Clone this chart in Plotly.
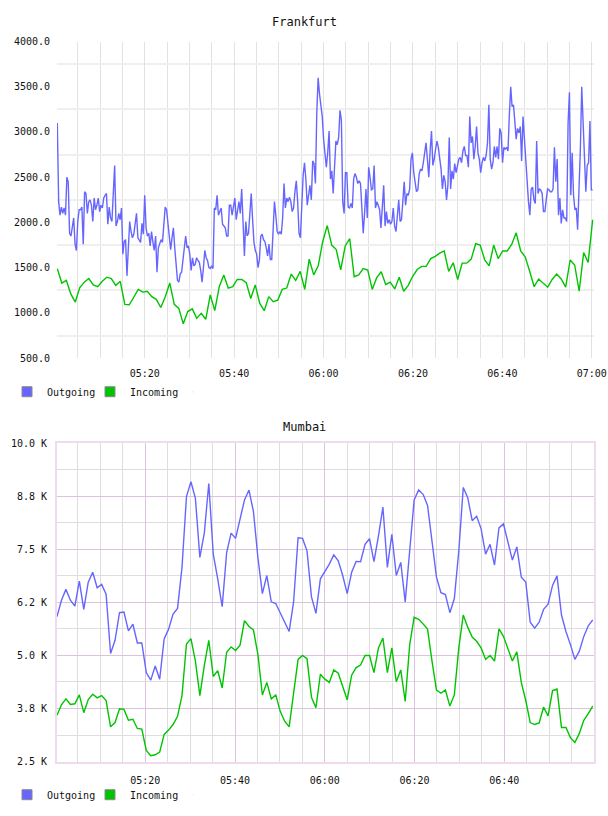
import pandas as pd
import plotly.graph_objects as go

# ---------------- data ----------------
fr_out = [3100, 2230, 2080, 2170, 2100, 2160, 2080, 2500, 2450, 1880, 1850, 1940, 2050, 1760, 1690, 2010,
          2140, 2140, 2170, 1760, 2340, 2320, 2100, 2230, 2250, 2190, 2010, 2270, 2140, 2190, 2270, 2120,
          2190, 2160, 2270, 2300, 2320, 1980, 2170, 2050, 2010, 2320, 2630, 1960, 2010, 2100, 2030, 2160,
          1650, 1790, 1810, 1410, 1790, 2010, 1900, 1830, 1870, 1980, 2100, 1830, 1810, 1780, 1990, 1870,
          2300, 1940, 1850, 1880, 1740, 1900, 1780, 1690, 1850, 1450, 1720, 1780, 1810, 1780, 1980, 2170,
          2140, 1980, 1850, 1700, 1830, 1940, 1720, 1540, 1360, 1340, 1430, 1450, 1580, 1690, 1850, 1720,
          1740, 1650, 1470, 1610, 1520, 1540, 1610, 1580, 1560, 1470, 1340, 1500, 1690, 1610, 1580, 1500,
          1490, 1520, 1490, 2160, 2140, 2300, 2080, 2120, 2160, 1980, 1960, 1940, 1850, 1850, 2190, 2190,
          2080, 2190, 2270, 2030, 2160, 2230, 2100, 2370, 2010, 1630, 2010, 1850, 1880, 2070, 2320, 2030,
          1780, 1690, 1650, 1500, 1590, 1850, 1870, 1810, 1790, 1720, 1630, 1760, 1590, 1590, 1900, 2230,
          2080, 1900, 1870, 1900, 1870, 2050, 2430, 2160, 2270, 2230, 2280, 2230, 2120, 2160, 2340, 2460,
          2230, 1880, 1830, 2170, 2520, 2660, 2480, 2190, 2340, 2410, 2250, 2680, 2650, 2430, 3210, 3600,
          3420, 3280, 3170, 2920, 2770, 2610, 2770, 3010, 2480, 2570, 2320, 2590, 2900, 2860, 2940, 3240,
          3130, 2230, 2100, 2550, 2550, 2170, 2160, 2210, 2160, 2480, 2540, 2500, 2430, 2460, 2430, 2160,
          1880, 2100, 2370, 2050, 2610, 2500, 2360, 2370, 2630, 2160, 2230, 2190, 2140, 1940, 2230, 2410,
          1960, 2120, 1990, 2030, 1980, 2010, 2160, 1960, 1900, 2100, 2250, 2010, 2030, 2230, 2450, 2190,
          2320, 2300, 2370, 2700, 2770, 2550, 2430, 2340, 2360, 2540, 2590, 2570, 2660, 2770, 2880, 2700,
          2500, 2790, 3010, 2630, 2700, 2810, 2900, 2830, 2700, 2590, 2370, 2520, 2450, 2250, 2410, 2940,
          2370, 2570, 2480, 2650, 2550, 2630, 2700, 2720, 2660, 2790, 2840, 2740, 2740, 2610, 3170, 2880,
          2950, 2700, 2840, 3060, 2770, 2700, 2550, 2660, 2720, 2680, 2740, 2880, 3300, 2700, 2590, 2660,
          2840, 2720, 2840, 2700, 3040, 2990, 2660, 2830, 2810, 2830, 2790, 3190, 3500, 3280, 3300, 3120,
          2920, 3040, 2990, 3060, 2680, 3170, 2920, 2790, 2450, 2230, 2080, 2370, 2390, 2250, 2210, 2900,
          2320, 2370, 2360, 2320, 2120, 2120, 2250, 2370, 2360, 2340, 2340, 2370, 2830, 2450, 2700, 2080,
          2270, 1990, 2140, 2050, 2050, 2010, 3100, 3440, 2300, 2770, 2300, 2140, 2160, 1920, 2370, 2810,
          3500, 3030, 2700, 2340, 2630, 2660, 3120, 2360, 2360]

fr_in = [1490, 1330, 1360, 1210, 1120, 1280, 1340, 1380, 1310, 1290, 1350, 1395, 1380, 1305, 1350, 1095,
         1090, 1180, 1260, 1230, 1240, 1180, 1150, 1060, 1180, 1330, 1095, 1050, 880, 1015, 1045, 940,
         995, 930, 1200, 1025, 1290, 1420, 1275, 1290, 1370, 1370, 1335, 1160, 1310, 1105, 1025, 1180,
         1125, 1140, 1260, 1275, 1430, 1360, 1460, 1260, 1594, 1420, 1520,
         1790, 1965, 1750, 1700, 1475, 1740, 1820, 1400, 1420, 1490, 1475, 1260, 1390, 1455, 1315, 1340,
         1265, 1395, 1240, 1305, 1405, 1480, 1515, 1515, 1600, 1625, 1660, 1685, 1460, 1555, 1370, 1550,
         1550, 1595, 1765, 1750, 1587, 1520, 1750, 1600, 1685, 1685, 1757, 1885, 1685, 1620, 1460, 1290,
         1375, 1330, 1285, 1370, 1430, 1375, 1285, 1585, 1530, 1240, 1667, 1558, 2030]

mu_out = [5913, 6300, 6555, 6300, 6161, 6749, 6084, 6726, 6958, 6594, 6672, 6440, 5046, 5356, 6006, 6022,
          5580, 5735, 5294, 5294, 4597, 4419, 4752, 4442, 5387, 5619, 5975, 6107, 7074, 8738, 9087, 8700,
          7306, 7887, 9048, 7384, 6803, 6146, 7422, 7879, 7755, 8235, 8661, 8893, 8390, 7306, 6455, 6881,
          6262, 6223, 5991, 5797, 5565, 6262, 7771, 7755, 7461, 6378, 5991, 6803, 6981,
          7151, 7368, 7229, 6881, 6455, 6958, 7214, 7206, 7616, 7748, 7206, 7810, 8491, 7074, 7848, 6881,
          7190, 6262, 7539, 8661, 8893, 8793, 8529, 7693, 6842, 6478, 6432, 6006, 6339, 7461, 8955, 8715,
          8173, 8274, 7980, 7384, 7616, 7128, 8003, 8096, 7693, 7245, 7554, 6842, 6726, 5781, 5642, 5781,
          6084, 6207, 6649, 6873, 5952, 5565, 5255, 4907, 5100, 5449, 5697, 5836]

mu_in = [3591, 3839, 3978, 3847, 3862, 4071, 3653, 3963, 4086, 4001, 4055, 3939, 3320, 3421, 3746, 3731,
         3475, 3498, 3281, 3266, 2763, 2639, 2662, 2724, 3142, 3243, 3374, 3568, 4055, 5271, 5395, 4868,
         4055, 4768, 5356, 4505, 4644, 4234, 5077, 5201, 5116, 5240, 5820, 5681, 5603, 5023, 4071, 4365,
         3978, 4071, 3684, 3452, 3320, 4071, 4907, 4999, 4922, 4017, 3769, 4559, 4442,
         4365, 4659, 4582, 4272, 3955, 4535, 4713, 4775, 4999, 4999, 4597, 5178, 5410, 4597, 5178, 4381,
         4659, 3916, 5255, 5898, 5851, 5743, 5619, 4868, 4187, 4110, 4187, 3808, 4071, 5178, 5952, 5666,
         5433, 5333, 5178, 4907, 4999, 4868, 5627, 5449, 5178, 4868, 5085, 4365, 3939, 3421, 3374, 3413,
         3785, 3576, 4172, 4210, 3305, 3305, 3065, 2949, 3166, 3475, 3630, 3808]

series_names = ["Outgoing", "Incoming"]
fr_yvals = [500, 1000, 1500, 2000, 2500, 3000, 3500, 4000]
fr_ytext = ["500.0", "1000.0", "1500.0", "2000.0", "2500.0", "3000.0", "3500.0", "4000.0"]
mu_yvals = [2500, 3750, 5000, 6250, 7500, 8750, 10000]
mu_ytext = ["2.5 K", "3.8 K", "5.0 K", "6.2 K", "7.5 K", "8.8 K", "10.0 K"]

DAY = "2024-01-01 "
fr_t_out = pd.date_range(DAY + "05:00:26", DAY + "07:00:12", periods=len(fr_out))
fr_t_in = pd.date_range(DAY + "05:00:26", DAY + "07:00:12", periods=len(fr_in))
mu_t_out = pd.date_range(DAY + "05:00:20", DAY + "06:59:42", periods=len(mu_out))
mu_t_in = pd.date_range(DAY + "05:00:20", DAY + "06:59:42", periods=len(mu_in))

# ---------------- style ----------------
W, H = 608, 816
ML, MR = 57, 14
BLUE = "#6666ff"
GREEN = "#00c400"
MONO = "DejaVu Sans Mono"


def py(p):  # page pixel (from top) -> paper fraction
    return 1 - p / H


def px(p):
    return (p - ML) / (W - ML - MR)


# Frankfurt horizontal grid lines sit half-way between the labels
fr_grid = [(a + b) / 2 for a, b in zip(fr_yvals[:-1], fr_yvals[1:])]

fig = go.Figure()

for ax, lg, (to, vo, ti, vi) in [
    ("", "legend", (fr_t_out, fr_out, fr_t_in, fr_in)),
    ("2", "legend2", (mu_t_out, mu_out, mu_t_in, mu_in)),
]:
    fig.add_trace(go.Scatter(x=to, y=vo, mode="lines", line=dict(color=BLUE, width=1.4),
                             showlegend=False, xaxis="x" + ax, yaxis="y" + ax))
    fig.add_trace(go.Scatter(x=ti, y=vi, mode="lines", line=dict(color=GREEN, width=1.4),
                             showlegend=False, xaxis="x" + ax, yaxis="y" + ax))
    for name, col in zip(series_names, [BLUE, GREEN]):
        fig.add_trace(go.Scatter(x=[None], y=[None], mode="markers", name=name,
                                 marker=dict(symbol="square", size=10, color=col,
                                             line=dict(color="#8a8a8a", width=1)),
                                 legend=lg, xaxis="x" + ax, yaxis="y" + ax))
    # blank spacer entry so the last legend label is not clipped
    fig.add_trace(go.Scatter(x=[None], y=[None], mode="markers", name=" ",
                             marker=dict(opacity=0, size=1), hoverinfo="skip",
                             legend=lg, xaxis="x" + ax, yaxis="y" + ax))

tickfont = dict(family=MONO, size=10, color="#111")
xcommon = dict(type="date", tickformat="%H:%M", dtick=1200000, tick0=DAY + "05:00",
               ticks="", tickfont=tickfont, zeroline=False, ticklabelstandoff=8)

legcommon = dict(orientation="h", xanchor="left", yanchor="middle",
                 font=dict(family=MONO, size=10, color="#111"), itemwidth=30,
                 bgcolor="rgba(0,0,0,0)", borderwidth=0, entrywidth=38,
                 entrywidthmode="pixels")

fig.update_layout(
    width=W, height=H,
    margin=dict(l=ML, r=MR, t=0, b=0),
    paper_bgcolor="white", plot_bgcolor="white",
    xaxis=dict(domain=[0, 1], anchor="y",
               range=[DAY + "05:00:22", DAY + "07:00:30"],
               showgrid=True, gridcolor="#e2e2e2", gridwidth=1,
               minor=dict(dtick=300000, tick0=DAY + "05:00", showgrid=True,
                          gridcolor="#e2e2e2", gridwidth=1),
               showline=False, **xcommon),
    yaxis=dict(domain=[py(358), py(37)], anchor="x", range=[500, 4000],
               tickmode="array", tickvals=fr_yvals, ticktext=fr_ytext,
               showgrid=False, zeroline=False, ticks="", tickfont=tickfont,
               ticklabelstandoff=6,
               minor=dict(tickmode="array", tickvals=fr_grid, showgrid=True,
                          gridcolor="#efefef", gridwidth=2)),
    xaxis2=dict(domain=[0, 1], anchor="y2",
                range=[DAY + "05:00:20", DAY + "06:59:59"],
                showgrid=True, gridcolor="#dcc2dc", gridwidth=1,
                minor=dict(dtick=300000, tick0=DAY + "05:00", showgrid=True,
                           gridcolor="#dedede", gridwidth=1),
                showline=True, mirror=True, linecolor="#eedcee", linewidth=2,
                **xcommon),
    yaxis2=dict(domain=[py(767), py(444)], anchor="x2", range=[2500, 10000],
                tickmode="array", tickvals=mu_yvals, ticktext=mu_ytext,
                showgrid=True, gridcolor="#dcc2dc", gridwidth=1,
                zeroline=False, ticks="", tickfont=tickfont, ticklabelstandoff=6,
                showline=True, mirror=True, linecolor="#eedcee", linewidth=2,
                minor=dict(tickmode="linear", dtick=625, tick0=2500, showgrid=True,
                           gridcolor="#dedede", gridwidth=1)),
    legend=dict(x=px(7), y=py(392), **legcommon),
    legend2=dict(x=px(7), y=py(800.5), **legcommon),
    annotations=[
        dict(text="Frankfurt", x=px(304), y=py(17), xref="paper", yref="paper",
             showarrow=False, font=dict(family=MONO, size=12, color="#111"),
             xanchor="center", yanchor="middle"),
        dict(text="Mumbai", x=px(304), y=py(428), xref="paper", yref="paper",
             showarrow=False, font=dict(family=MONO, size=12, color="#111"),
             xanchor="center", yanchor="middle"),
    ],
    showlegend=True,
)

fig.write_html("out.html")
